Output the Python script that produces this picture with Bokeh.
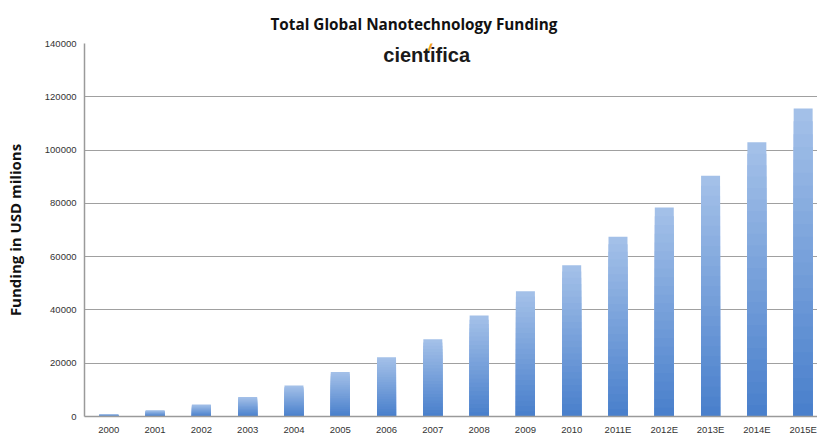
from bokeh.plotting import figure
from bokeh.models import FixedTicker, Range1d, Label, Title
from bokeh.embed import file_html
from bokeh.resources import INLINE
from bokeh.core.properties import value

years = ["2000", "2001", "2002", "2003", "2004", "2005", "2006", "2007",
         "2008", "2009", "2010", "2011E", "2012E", "2013E", "2014E", "2015E"]
funding = [800, 2300, 4500, 7300, 11600, 16700, 22200, 29000,
           37900, 47000, 56800, 67500, 78400, 90400, 102900, 115600]
y_ticks = [0, 20000, 40000, 60000, 80000, 100000, 120000, 140000]

xpos = list(range(len(years)))

p = figure(width=817, height=437, output_backend="svg", toolbar_location=None,
           x_range=Range1d(-0.525, 15.31), y_range=Range1d(0, 140000),
           min_border_left=84, min_border_right=0, min_border_top=43,
           min_border_bottom=20, background_fill_color="white",
           border_fill_color="white")
p.outline_line_color = None

p.add_layout(Title(text="Total Global Nanotechnology Funding", align="left", offset=186,
                   vertical_align="top",
                   text_font="Open Sans", text_font_style="bold",
                   text_font_size="15.3px", text_color="#111111", standoff=16), "above")

# gradient bars: light top -> darker bottom
light = (0xA3, 0xC0, 0xE8)
dark = (0x4A, 0x80, 0xCC)
N = 24
for k in range(N):
    f = 1 - k / N
    t = k / (N - 1)
    c = tuple(int(round(light[i] + (dark[i] - light[i]) * t)) for i in range(3))
    col = "#%02x%02x%02x" % c
    p.vbar(x=xpos, top=[v * f for v in funding], width=0.41, bottom=0,
           fill_color=col, line_color=None)

# axes
p.xaxis.ticker = FixedTicker(ticks=xpos)
p.xaxis.major_label_overrides = {i: y for i, y in enumerate(years)}
p.yaxis.ticker = FixedTicker(ticks=y_ticks)
p.yaxis.formatter.use_scientific = False
for ax in (p.xaxis, p.yaxis):
    ax.major_tick_out = 0
    ax.major_tick_in = 0
    ax.minor_tick_out = 0
    ax.minor_tick_in = 0
    ax.axis_line_color = "#9a9a9a"
    ax.axis_line_width = 1.5
    ax.major_label_text_font = "Liberation Sans"
    ax.major_label_text_font_size = "9.5px"
    ax.major_label_text_color = "#333333"
    ax.major_label_standoff = 8
p.xaxis.major_label_standoff = 7
p.yaxis.axis_label = "Funding in USD milions"
p.yaxis.axis_label_text_font = "Open Sans"
p.yaxis.axis_label_text_font_style = "bold"
p.yaxis.axis_label_text_font_size = "15px"
p.yaxis.axis_label_text_color = "#111111"
p.yaxis.axis_label_standoff = 17

p.xgrid.grid_line_color = None
p.ygrid.grid_line_color = "#a0a0a0"
p.ygrid.grid_line_width = 1.2

# logo
p.add_layout(Label(x=5.93, y=135600, text="cientifica", text_font="Liberation Sans",
                   text_font_style="bold", text_font_size="20px", text_color="#1a1a1a",
                   text_baseline="alphabetic", text_align="left"))
p.add_layout(Label(x=6.9, y=139300, text="/", text_font="Liberation Sans",
                   text_font_style="bold italic", text_font_size="18px", text_color="#f0a020",
                   text_baseline="alphabetic", text_align="left"))

open("out.html", "w").write(file_html(p, INLINE))
